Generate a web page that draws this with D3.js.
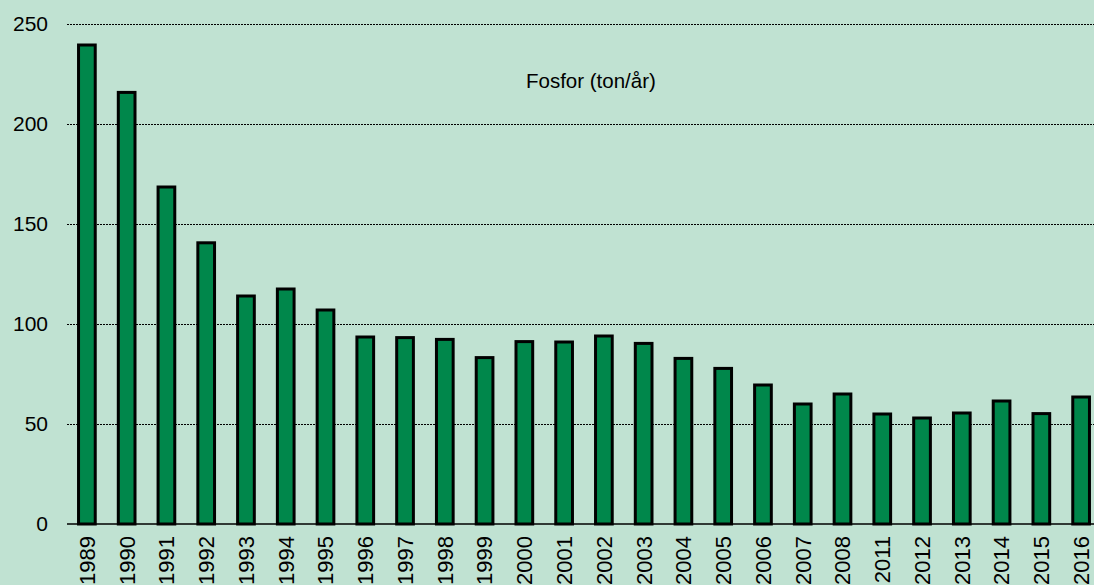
<!DOCTYPE html>
<html>
<head>
<meta charset="utf-8">
<script src="https://cdn.jsdelivr.net/npm/d3@7"></script>
<style>
    body { margin: 0; background: #c0e2d2; overflow: hidden; }
    text { font-family: Arial, "Liberation Sans", sans-serif; fill: #000; }
</style>
</head>
<body>
<div id="chart"></div>
<script>
// data
let years = ["1989", "1990", "1991", "1992", "1993", "1994", "1995", "1996", "1997", "1998",
    "1999", "2000", "2001", "2002", "2003", "2004", "2005", "2006", "2007", "2008",
    "2011", "2012", "2013", "2014", "2015", "2016"];
let fosfor = [239.5, 215.8, 168.5, 140.6, 114, 117.5, 107, 93.5, 93.2, 92.3,
    83.2, 91.2, 91, 94, 90.3, 82.8, 77.8, 69.5, 60, 65,
    55, 53, 55.5, 61.5, 55.2, 63.5];
let yTicks = [0, 50, 100, 150, 200, 250];
let title = "Fosfor (ton/år)";

let data = years.map((y, i) => ({year: y, value: fosfor[i]}));

let width = 1094, height = 585;
let margin = {top: 24, left: 67, bottom: 61};

let svg = d3.select("#chart").append("svg")
    .attr("width", width)
    .attr("height", height);

svg.append("rect")
    .attr("width", width)
    .attr("height", height)
    .attr("fill", "#c0e2d2");

// scales
let x = d3.scaleBand()
    .domain(years)
    .range([margin.left, 1101])
    .paddingInner(0.58)
    .paddingOuter(0.29);

let y = d3.scaleLinear()
    .domain([0, 250])
    .range([height - margin.bottom, margin.top]);

// grid lines (dotted)
svg.append("g")
    .attr("class", "grid")
    .selectAll("line")
    .data(yTicks.filter(d => d > 0))
    .join("line")
    .attr("x1", margin.left)
    .attr("x2", width)
    .attr("y1", d => Math.round(y(d)) + 0.5)
    .attr("y2", d => Math.round(y(d)) + 0.5)
    .attr("stroke", "#000")
    .attr("stroke-width", 1)
    .attr("stroke-dasharray", "2,1");

// y axis labels
let yAxis = d3.axisLeft(y)
    .tickValues(yTicks)
    .tickSize(0)
    .tickPadding(0);

svg.append("g")
    .attr("class", "y-axis")
    .attr("transform", "translate(48,0)")
    .call(yAxis)
    .call(g => g.select(".domain").remove())
    .selectAll("text")
    .attr("font-size", "21px")
    .attr("font-family", "Arial, 'Liberation Sans', sans-serif");

// bars
svg.selectAll(".bar")
    .data(data)
    .join("rect")
    .attr("class", "bar")
    .attr("x", d => x(d.year))
    .attr("y", d => y(d.value))
    .attr("width", x.bandwidth())
    .attr("height", d => y(0) - y(d.value))
    .attr("fill", "#00874b")
    .attr("stroke", "#000")
    .attr("stroke-width", 3);

// baseline
svg.append("line")
    .attr("x1", margin.left)
    .attr("x2", width)
    .attr("y1", y(0))
    .attr("y2", y(0))
    .attr("stroke", "#000")
    .attr("stroke-width", 1.5);

// x labels, rotated
let xAxis = d3.axisBottom(x)
    .tickSize(0)
    .tickPadding(0);

svg.append("g")
    .attr("class", "x-axis")
    .attr("transform", `translate(0, ${y(0) + 12})`)
    .call(xAxis)
    .call(g => g.select(".domain").remove())
    .selectAll("text")
    .attr("font-size", "22px")
    .attr("font-family", "Arial, 'Liberation Sans', sans-serif")
    .attr("text-anchor", "end")
    .attr("transform", "rotate(-90)")
    .attr("x", 0)
    .attr("y", 0)
    .attr("dy", "0.36em");

// title
svg.append("text")
    .attr("x", 526)
    .attr("y", 88)
    .attr("font-size", "20.5px")
    .text(title);
</script>
</body>
</html>
